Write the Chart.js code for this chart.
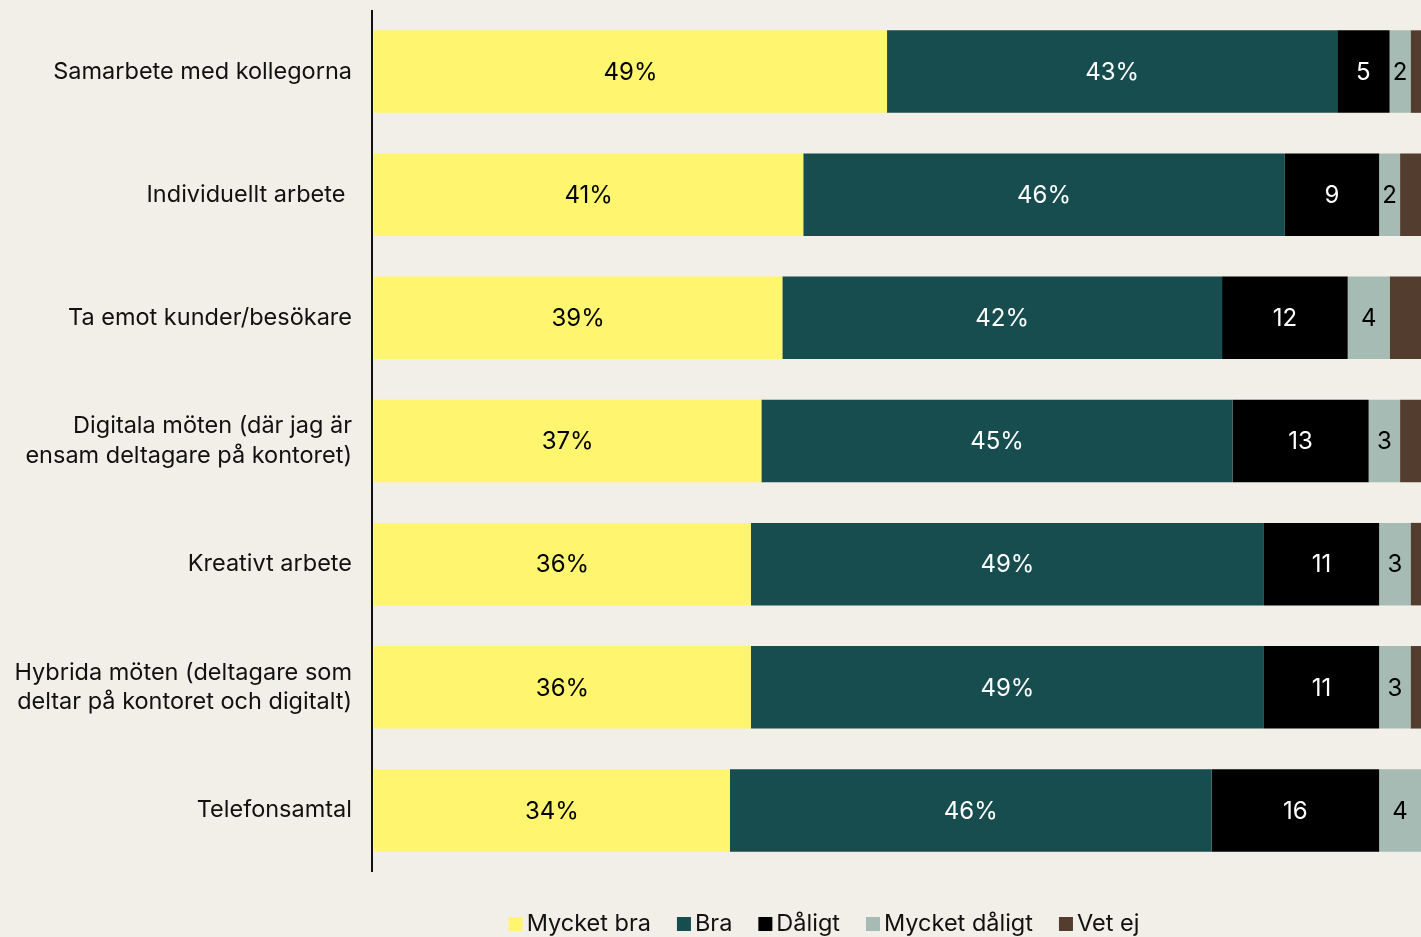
<!DOCTYPE html>
<html>
<head>
<meta charset="utf-8">
<script src="https://cdn.jsdelivr.net/npm/chart.js@4/dist/chart.umd.min.js"></script>
<style>
  html, body { margin: 0; padding: 0; background: #f2eee8; }
  #wrap { width: 1421px; height: 937px; }
</style>
</head>
<body>
<div id="wrap"><canvas id="c"></canvas></div>
<script>
const categories = [
  "Samarbete med kollegorna",
  "Individuellt arbete ",
  "Ta emot kunder/besökare",
  ["Digitala möten (där jag är", "ensam deltagare på kontoret)"],
  "Kreativt arbete",
  ["Hybrida möten (deltagare som", "deltar på kontoret och digitalt)"],
  "Telefonsamtal"
];
const seriesNames = ["Mycket bra", "Bra", "Dåligt", "Mycket dåligt", "Vet ej"];
const mycketBra    = [49, 41, 39, 37, 36, 36, 34];
const bra          = [43, 46, 42, 45, 49, 49, 46];
const daligt       = [5, 9, 12, 13, 11, 11, 16];
const mycketDaligt = [2, 2, 4, 3, 3, 3, 4];
const vetEj        = [1, 2, 3, 2, 1, 1, 0];
const colors = ["#fff56f", "#174d4f", "#000000", "#a5bbb3", "#533d2f"];
const labelColors = ["#000000", "#ffffff", "#ffffff", "#000000", null];
const suffixes = ["%", "%", "", "", ""];

const seriesValues = [mycketBra, bra, daligt, mycketDaligt, vetEj];
const FONT = 'Inter, "Open Sans", sans-serif';

const barLabels = {
  id: 'barLabels',
  afterDatasetsDraw(chart) {
    const ctx = chart.ctx;
    const ca = chart.chartArea;
    ctx.save();
    // axis line drawn just left of the bars
    ctx.fillStyle = '#111111';
    ctx.fillRect(ca.left - 3, ca.top, 2, ca.bottom - ca.top);
    ctx.font = '24px ' + FONT;
    ctx.textAlign = 'center';
    ctx.textBaseline = 'middle';
    chart.data.datasets.forEach((ds, di) => {
      if (!labelColors[di]) return;
      const meta = chart.getDatasetMeta(di);
      meta.data.forEach((bar, i) => {
        const v = ds.data[i];
        if (!v) return;
        const x = (bar.x + bar.base) / 2;
        ctx.fillStyle = labelColors[di];
        ctx.fillText(v + suffixes[di], x, bar.y + 1);
      });
    });
    ctx.restore();
  }
};

const customLegend = {
  id: 'customLegend',
  afterDraw(chart) {
    const ctx = chart.ctx;
    ctx.save();
    ctx.font = '23.5px ' + FONT;
    ctx.textBaseline = 'middle';
    ctx.textAlign = 'left';
    const box = 14, gapText = 4, gapItem = 26;
    const widths = seriesNames.map(n => box + gapText + ctx.measureText(n).width);
    const total = widths.reduce((a, b) => a + b, 0) + gapItem * (seriesNames.length - 1);
    const centerX = 824;
    let x = centerX - total / 2;
    const y = 924;
    seriesNames.forEach((n, i) => {
      ctx.fillStyle = colors[i];
      ctx.fillRect(x, y - box / 2, box, box);
      ctx.fillStyle = '#111111';
      ctx.fillText(n, x + box + gapText, y);
      x += widths[i] + gapItem;
    });
    ctx.restore();
  }
};

new Chart(document.getElementById('c'), {
  type: 'bar',
  data: {
    labels: categories,
    datasets: seriesNames.map((n, i) => ({
      label: n,
      data: seriesValues[i],
      backgroundColor: colors[i],
      borderWidth: 0,
      categoryPercentage: 0.67,
      barPercentage: 1.0
    }))
  },
  options: {
    indexAxis: 'y',
    responsive: true,
    maintainAspectRatio: false,
    animation: false,
    layout: { padding: { top: 10, right: 0, left: 0, bottom: 65 } },
    scales: {
      x: {
        stacked: true,
        min: 0, max: 100,
        display: false
      },
      y: {
        stacked: true,
        grid: { display: false, drawTicks: false },
        border: { display: false },
        afterFit(s) { s.width = 374; s.paddingTop = 0; s.paddingBottom = 0; },
        ticks: {
          color: '#111111',
          padding: 22,
          font: { family: FONT, size: 23.5, lineHeight: 1.25 }
        }
      }
    },
    plugins: {
      legend: { display: false },
      tooltip: { enabled: false }
    }
  },
  plugins: [barLabels, customLegend]
});
</script>
</body>
</html>
